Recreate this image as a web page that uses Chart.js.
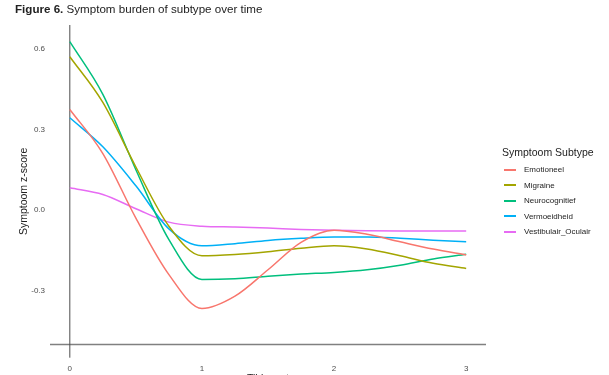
<!DOCTYPE html>
<html>
<head>
  <title>Symptom burden of subtype over time</title>
  <style>
    html, body { margin: 0; padding: 0; background: #fff; overflow: hidden; }
    body { font-family: "Liberation Sans", Arial, sans-serif; }
    #frame { position: relative; width: 609px; height: 375px; overflow: hidden; }
    #title { position: absolute; left: 15px; top: 2px; font-size: 11.6px; color: #222; white-space: nowrap; }
    #chartBox { position: absolute; left: 0; top: 0; width: 609px; height: 395px; }
    #legend { position: absolute; left: 502px; top: 146px; color: #222; }
    #legend .head { font-size: 10.5px; margin-bottom: 4px; }
    #legend .item { display: flex; align-items: center; height: 15.5px; font-size: 8px; }
    #legend .key { width: 12px; height: 2px; margin: 0 8px 0 2px; }
  </style>
</head>
<body>
<div id="frame">
  <canvas id="chartBox" width="609" height="395"></canvas>
  <div id="title"><b>Figure 6.</b> Symptom burden of subtype over time</div>
  <div id="legend"><div class="head">Symptoom Subtype</div></div>
</div>

<script src="https://cdn.jsdelivr.net/npm/chart.js"></script>
<script>
  // time points (x) and smoothed z-scores per subtype
  const timepoints = [0, 0.25, 0.5, 0.75, 1, 1.25, 1.5, 1.75, 2, 2.25, 2.5, 2.75, 3];
  const emotioneel = [0.374, 0.21, -0.03, -0.24, -0.366, -0.32, -0.222, -0.12, -0.075, -0.09, -0.118, -0.145, -0.167];
  const migraine = [0.57, 0.40, 0.16, -0.06, -0.17, -0.165, -0.155, -0.142, -0.133, -0.145, -0.17, -0.198, -0.217];
  const neurocognitief = [0.626, 0.43, 0.15, -0.11, -0.258, -0.255, -0.246, -0.238, -0.232, -0.222, -0.205, -0.182, -0.164];
  const vermoeidheid = [0.343, 0.235, 0.09, -0.07, -0.133, -0.125, -0.113, -0.105, -0.10, -0.10, -0.105, -0.112, -0.118];
  const vestibulair = [0.083, 0.058, 0.005, -0.045, -0.06, -0.063, -0.067, -0.072, -0.075, -0.077, -0.078, -0.078, -0.078];

  const subtypeNames = ["Emotioneel", "Migraine", "Neurocognitief", "Vermoeidheid", "Vestibulair_Oculair"];
  const subtypeValues = [emotioneel, migraine, neurocognitief, vermoeidheid, vestibulair];
  const subtypeColors = ["#F8766D", "#A3A500", "#00BF7D", "#00B0F6", "#E76BF3"];

  const xTicks = [0, 1, 2, 3];
  const yTicks = [-0.3, 0, 0.3, 0.6];
  const xRange = [-0.15, 3.15];
  const yRange = [-0.549, 0.688];
  const vlineX = 0;
  const hlineY = -0.5;

  // legend (html)
  const legend = document.getElementById("legend");
  subtypeNames.forEach((name, i) => {
    const row = document.createElement("div");
    row.className = "item";
    row.innerHTML = '<span class="key" style="background:' + subtypeColors[i] + '"></span>' + name;
    legend.appendChild(row);
  });

  // reference lines at x = 0 and y = -0.5
  const refLines = {
    id: "refLines",
    beforeDatasetsDraw(chart) {
      const { ctx, chartArea, scales } = chart;
      const x0 = scales.x.getPixelForValue(vlineX);
      const y0 = scales.y.getPixelForValue(hlineY);
      ctx.save();
      ctx.strokeStyle = "#808080";
      ctx.lineWidth = 1.5;
      ctx.beginPath();
      ctx.moveTo(chartArea.left, y0);
      ctx.lineTo(chartArea.right, y0);
      ctx.stroke();
      ctx.strokeStyle = "#4d4d4d";
      ctx.lineWidth = 1;
      ctx.beginPath();
      ctx.moveTo(x0, chartArea.top);
      ctx.lineTo(x0, chartArea.bottom);
      ctx.stroke();
      ctx.restore();
    }
  };

  const tickFont = { family: "'Liberation Sans', Arial, sans-serif", size: 8 };
  const titleFont = { family: "'Liberation Sans', Arial, sans-serif", size: 10.5 };

  new Chart(document.getElementById("chartBox"), {
    type: "line",
    data: {
      datasets: subtypeNames.map((name, i) => ({
        label: name,
        data: timepoints.map((t, j) => ({ x: t, y: subtypeValues[i][j] })),
        borderColor: subtypeColors[i],
        borderWidth: 1.5,
        pointRadius: 0,
        cubicInterpolationMode: "monotone",
        fill: false
      }))
    },
    options: {
      responsive: false,
      devicePixelRatio: 1,
      animation: false,
      layout: { padding: { left: 0, top: 25, right: 123, bottom: 0 } },
      plugins: { legend: { display: false }, tooltip: { enabled: false } },
      scales: {
        x: {
          type: "linear",
          min: xRange[0],
          max: xRange[1],
          grid: { display: false, drawTicks: false },
          border: { display: false },
          afterBuildTicks: s => { s.ticks = xTicks.map(v => ({ value: v })); },
          afterFit: s => { s.height = 37.3; },
          ticks: { color: "#4d4d4d", font: tickFont, padding: 6, callback: v => String(v) },
          title: { display: true, text: "Tijdspunt", color: "#222", font: titleFont, padding: { top: 0, bottom: 9.5 } }
        },
        y: {
          min: yRange[0],
          max: yRange[1],
          grid: { display: false, drawTicks: false },
          border: { display: false },
          afterBuildTicks: s => { s.ticks = yTicks.map(v => ({ value: v })); },
          afterFit: s => { s.width = 50; },
          ticks: { color: "#4d4d4d", font: tickFont, padding: 5, callback: v => v.toFixed(1) },
          title: { display: true, text: "Symptoom z-score", color: "#222", font: titleFont, padding: { top: 17.7, bottom: 0 } }
        }
      }
    },
    plugins: [refLines]
  });
</script>
</body>
</html>
